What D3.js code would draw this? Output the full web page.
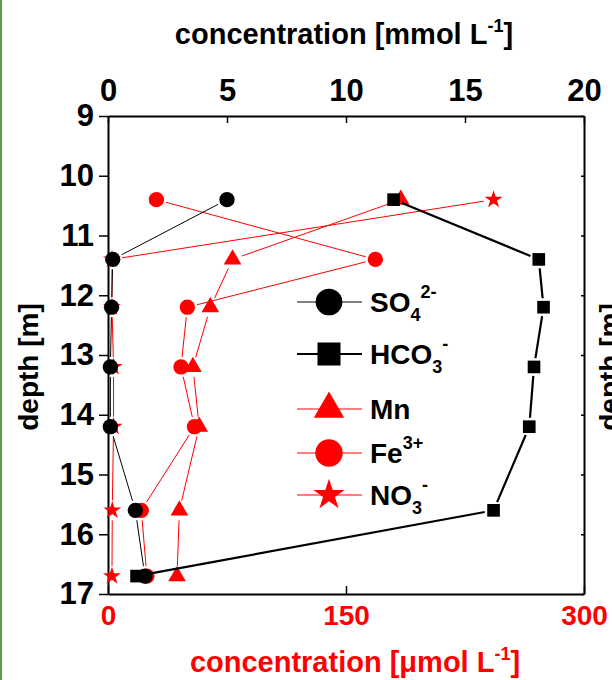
<!DOCTYPE html>
<meta charset="utf-8">
<style>
body { margin: 0; background: #fff; }
text { font-family: "Liberation Sans", Arial, sans-serif; font-weight: bold; }
</style>
<svg width="612" height="680"></svg>
<script src="https://d3js.org/d3.v7.min.js"></script>
<script>

// depth of each sample [m]
var depth = [10.4, 11.4, 12.2, 13.2, 14.2, 15.6, 16.7];
// mmol/L (top axis)
var so4  = [5.0, 0.2, 0.15, 0.1, 0.1, 1.15, 1.55];
var hco3 = [12.0, 18.1, 18.3, 17.9, 17.7, 16.2, 1.2];
// umol/L (bottom axis)
var mn  = [184.5, 78.5, 64.5, 53.5, 57.5, 45, 43.5];
var fe  = [30.5, 168.5, 50, 46, 54.5, 21, 24.5];
var no3 = [243, 2.5, 2.5, 3.5, 3.5, 2.7, 2.5];

var mmolTicks = [0, 5, 10, 15, 20];
var umolTicks = [0, 150, 300];
var depthTicks = [9, 10, 11, 12, 13, 14, 15, 16, 17];

var svg = d3.select("svg"),
    x0 = 108, x1 = 584, y0 = 116, y1 = 594;

// green strip on the left edge of the page
svg.append("rect").attr("x", 0).attr("y", 0).attr("width", 2).attr("height", 680).attr("fill", "#5a9e4b");

var y = d3.scaleLinear().domain([9, 17]).range([y0, y1]);
var xm = d3.scaleLinear().domain([0, 20]).range([x0, x1]);
var xu = d3.scaleLinear().domain([0, 300]).range([x0, x1]);

// axes
var gTop = svg.append("g").attr("transform", "translate(0," + y0 + ")")
    .call(d3.axisTop(xm).tickValues(mmolTicks).tickSizeInner(-7).tickSizeOuter(0).tickPadding(15));
var gBot = svg.append("g").attr("transform", "translate(0," + y1 + ")")
    .call(d3.axisBottom(xu).tickValues(umolTicks).tickSizeInner(-8).tickSizeOuter(0).tickPadding(11));
var gLeft = svg.append("g").attr("transform", "translate(" + x0 + ",0)")
    .call(d3.axisLeft(y).tickValues(depthTicks).tickSizeInner(9).tickSizeOuter(0).tickPadding(5));
var gRight = svg.append("g").attr("transform", "translate(" + x1 + ",0)")
    .call(d3.axisRight(y).tickValues(depthTicks).tickSizeInner(-3).tickSizeOuter(0).tickFormat(""));

[gTop, gBot, gLeft, gRight].forEach(function(g) {
  g.select(".domain").attr("stroke", "#000").attr("stroke-width", 2);
  g.selectAll(".tick line").attr("stroke", "#000").attr("stroke-width", 1.5);
  g.selectAll(".tick text").style("font-weight", "bold")
    .style("font-family", "'Liberation Sans', Arial, sans-serif").attr("fill", "#000");
});
gTop.selectAll(".tick text").style("font-size", "31px");
gLeft.selectAll(".tick text").style("font-size", "31px");
gBot.selectAll(".tick text").style("font-size", "28px").attr("fill", "#f00");

// axis titles
var t1 = svg.append("text").attr("x", 344).attr("y", 44).attr("text-anchor", "middle")
    .style("font-size", "29px").attr("fill", "#000");
t1.append("tspan").text("concentration [mmol L");
t1.append("tspan").attr("dy", -12).style("font-size", "18px").text("-1");
t1.append("tspan").attr("dy", 12).text("]");

var t2 = svg.append("text").attr("x", 355).attr("y", 672).attr("text-anchor", "middle")
    .style("font-size", "29px").attr("fill", "#f00");
t2.append("tspan").text("concentration [\u03bcmol L");
t2.append("tspan").attr("dy", -12).style("font-size", "18px").text("-1");
t2.append("tspan").attr("dy", 12).text("]");

svg.append("text").attr("transform", "translate(38,367) rotate(-90)").attr("text-anchor", "middle")
    .style("font-size", "28px").text("depth [m]");
// neighbouring panel's label, cut by the page edge
svg.append("text").attr("transform", "translate(619,367) rotate(-90)").attr("text-anchor", "middle")
    .style("font-size", "28px").text("depth [m]");

// series
function symPath(type, size) {
  return d3.symbol().type(type).size(size)();
}

var series = [
  {vals: no3, x: xu, color: "#f00", width: 1, type: d3.symbolStar, size: 100, r: 8},
  {vals: fe,  x: xu, color: "#f00", width: 1, type: d3.symbolCircle, size: 185, r: 8},
  {vals: mn,  x: xu, color: "#f00", width: 1, type: d3.symbolTriangle, size: 135, r: 8},
  {vals: so4, x: xm, color: "#000", width: 1, type: d3.symbolCircle, size: 185, r: 8},
  {vals: hco3, x: xm, color: "#000", width: 2.2, type: d3.symbolSquare, size: 160, r: 7}
];

series.forEach(function(s) {
  var pts = s.vals.map(function(v, i) { return [s.x(v), y(depth[i])]; });
  var segs = d3.pairs(pts).map(function(p) {
    var dx = p[1][0] - p[0][0], dy = p[1][1] - p[0][1], d = Math.sqrt(dx * dx + dy * dy);
    var g = s.r + 2;
    if (d <= 2 * g) return null;
    var ux = dx / d, uy = dy / d;
    return [[p[0][0] + ux * g, p[0][1] + uy * g], [p[1][0] - ux * g, p[1][1] - uy * g]];
  }).filter(Boolean);
  var g = svg.append("g");
  g.selectAll("line").data(segs).join("line")
      .attr("x1", function(d) { return d[0][0]; }).attr("y1", function(d) { return d[0][1]; })
      .attr("x2", function(d) { return d[1][0]; }).attr("y2", function(d) { return d[1][1]; })
      .attr("stroke", s.color).attr("stroke-width", s.width);
  g.selectAll("path").data(pts).join("path")
      .attr("transform", function(d) { return "translate(" + d[0] + "," + d[1] + ")"; })
      .attr("d", symPath(s.type, s.size))
      .attr("fill", s.color);
});

// legend
var legend = [
  {name: "SO", sub: "4", sup: "2-", color: "#000", width: 1.2, type: d3.symbolCircle, size: 560},
  {name: "HCO", sub: "3", sup: "-", color: "#000", width: 2.2, type: d3.symbolSquare, size: 530},
  {name: "Mn", sub: null, sup: null, color: "#f00", width: 1, type: d3.symbolTriangle, size: 400},
  {name: "Fe", sub: null, sup: "3+", color: "#f00", width: 1, type: d3.symbolCircle, size: 590},
  {name: "NO", sub: "3", sup: "-", color: "#f00", width: 1, type: d3.symbolStar, size: 300}
];
var legendY = [302, 354, 409, 453, 495];

var lg = svg.append("g").selectAll("g").data(legend).join("g")
    .attr("transform", function(d, i) { return "translate(0," + legendY[i] + ")"; });
lg.append("line").attr("x1", 297).attr("x2", 362)
    .attr("stroke", function(d) { return d.color; })
    .attr("stroke-width", function(d) { return d.width; });
lg.append("path").attr("transform", "translate(329,0)")
    .attr("d", function(d) { return symPath(d.type, d.size); })
    .attr("fill", function(d) { return d.color; });
lg.each(function(d) {
  var t = d3.select(this).append("text").attr("x", 370).attr("y", 10).style("font-size", "28px");
  t.append("tspan").text(d.name);
  var dy = 0;
  if (d.sub) {
    t.append("tspan").attr("dy", 9).style("font-size", "18px").text(d.sub);
    dy = 9;
  }
  if (d.sup) {
    t.append("tspan").attr("dy", -dy - 14).style("font-size", "18px").text(d.sup);
  }
});

</script>
